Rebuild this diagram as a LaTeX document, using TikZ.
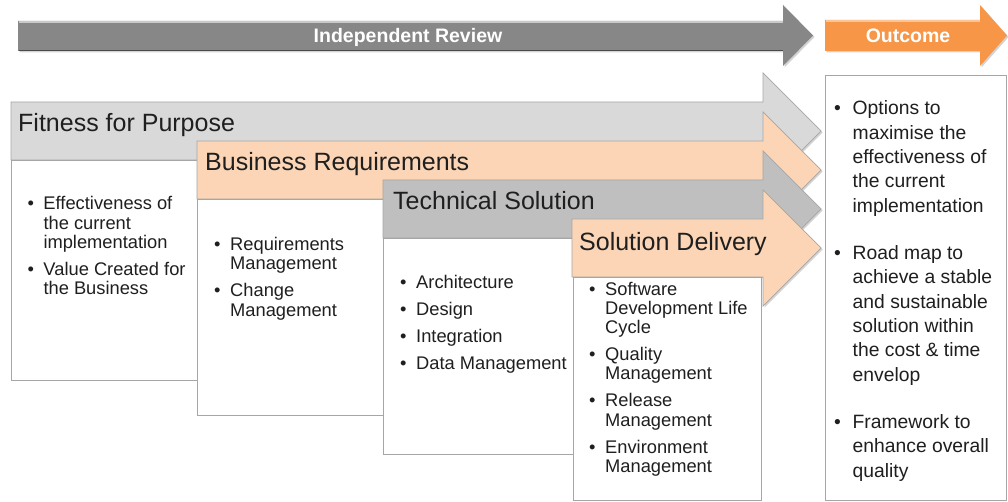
\documentclass[tikz,border=0pt]{standalone}
\usepackage{fontspec}
\setmainfont{Liberation Sans}
\usetikzlibrary{shadows}
\definecolor{hdrgray}{HTML}{878787}
\definecolor{outorange}{HTML}{F79646}
\definecolor{fitgray}{HTML}{D9D9D9}
\definecolor{peach}{HTML}{FBD5B5}
\definecolor{techgray}{HTML}{BFBFBF}
\definecolor{boxline}{HTML}{A6A6A6}
\definecolor{txt}{HTML}{1F1F1F}

\newcommand{\bul}[2][16pt]{\par\hangindent=#1\hangafter=1\noindent\makebox[#1][l]{•}#2\par}
\newcommand{\stagearr}[3]{%
  \path[stagearrow, fill=#3] (#1,#2-29) -- (763,#2-29) -- (763,#2-58) -- (821,#2)
    -- (763,#2+58) -- (763,#2+29) -- (#1,#2+29) -- cycle;}

\begin{document}
\begin{tikzpicture}[x=1pt,y=-1pt,
  stagearrow/.style={draw=black!35, line width=0.7pt,
    drop shadow={opacity=0.35, shadow xshift=1.5pt, shadow yshift=-1.5pt}},
  bandarrow/.style={drop shadow={opacity=0.35, shadow xshift=1.5pt, shadow yshift=-1.5pt}},
  whitebox/.style={draw=boxline, line width=0.9pt, fill=white},
  title/.style={anchor=base west, inner sep=0pt, font=\fontsize{25}{30}\selectfont, text=txt},
  blist/.style={anchor=base west, inner sep=0pt, text=txt},
  toplabel/.style={anchor=base, inner sep=0pt, font=\fontsize{19.5}{23}\selectfont\bfseries, text=white},
]
\useasboundingbox (0,0) rectangle (1008,502);

% top band arrows
\path[bandarrow, fill=hdrgray] (18,21) -- (783,21) -- (783,5) -- (813,35.5) -- (783,66) -- (783,51) -- (18,51) -- cycle;
\draw[white!55!hdrgray, line width=1.2pt] (18.5,22) -- (783,22);
\draw[black!45!hdrgray, line width=1pt] (18.5,50.5) -- (783,50.5);
\node[toplabel] (review) at (408,43) {Independent Review};

\path[bandarrow, fill=outorange] (825,20) -- (980,20) -- (980,5) -- (1007,35.5) -- (980,66) -- (980,51) -- (825,51) -- cycle;
\draw[white!45!outorange, line width=1.2pt] (825.5,21) -- (980,21);
\node[toplabel] (outcome) at (908,43) {Outcome};

% Fitness for Purpose
\stagearr{11}{131}{fitgray}
\node[title] (fitness) at (18,132) {Fitness for Purpose};
\path[whitebox] (11,160) rectangle (197,380);
\node[blist] (fitlist) at (27.3,210) {\parbox[t]{180pt}{\fontsize{18.3}{19.3}\selectfont\setlength{\parskip}{7.7pt}%
\bul{Effectiveness of\\the current\\implementation}%
\bul{Value Created for\\the Business}}};

% Business Requirements
\stagearr{197}{170}{peach}
\node[title] (business) at (205,171) {Business Requirements};
\path[whitebox] (197,199) rectangle (383,415);
\node[blist] (buslist) at (214,250.5) {\parbox[t]{180pt}{\fontsize{18.3}{19.3}\selectfont\setlength{\parskip}{7.7pt}%
\bul{Requirements\\Management}%
\bul{Change\\Management}}};

% Technical Solution
\stagearr{383}{209}{techgray}
\node[title] (technical) at (393,210) {Technical Solution};
\path[whitebox] (383,238) rectangle (573,454);
\node[blist] (techlist) at (400,288) {\parbox[t]{180pt}{\fontsize{18.3}{19.3}\selectfont\setlength{\parskip}{7.7pt}%
\bul{Architecture}%
\bul{Design}%
\bul{Integration}%
\bul{Data Management}}};

% Solution Delivery
\stagearr{572}{248}{peach}
\node[title] (delivery) at (579,251) {Solution Delivery};
\path[whitebox] (573,277) rectangle (761,500);
\node[blist] (delivlist) at (589,295) {\parbox[t]{180pt}{\fontsize{18.3}{19.3}\selectfont\setlength{\parskip}{7.7pt}%
\bul{Software\\Development Life\\Cycle}%
\bul{Quality\\Management}%
\bul{Release\\Management}%
\bul{Environment\\Management}}};

% Outcome box
\path[whitebox] (825,75) rectangle (1006,500);
\node[blist] (outlist) at (834,115) {\parbox[t]{172pt}{\fontsize{19.3}{24.3}\selectfont\setlength{\parskip}{23.2pt}%
\bul[18.5pt]{Options to\\maximise the\\effectiveness of\\the current\\implementation}%
\bul[18.5pt]{Road map to\\achieve a stable\\and sustainable\\solution within\\the cost \& time\\envelop}%
\bul[18.5pt]{Framework to\\enhance overall\\quality}}};
\end{tikzpicture}
\end{document}
